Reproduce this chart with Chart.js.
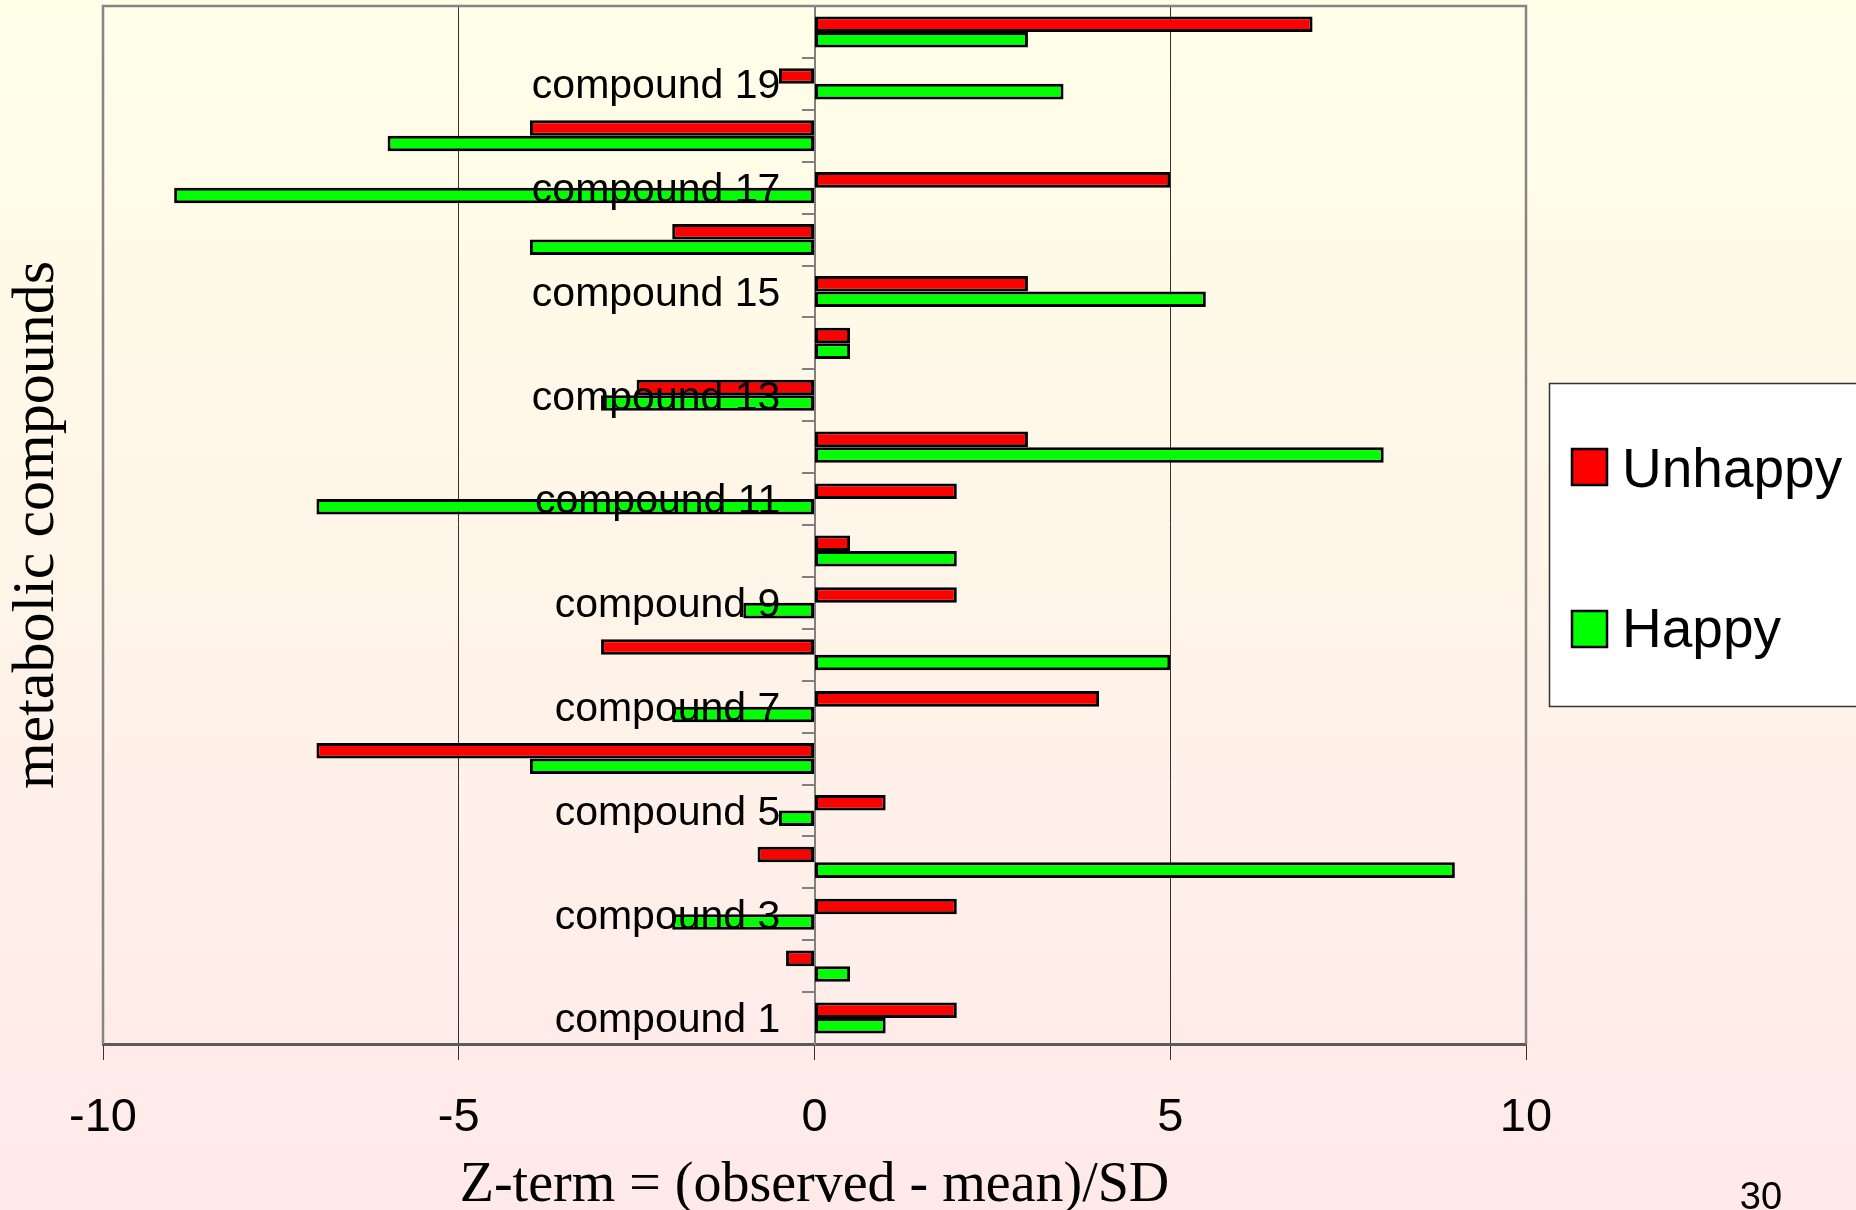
<!DOCTYPE html>
<html>
<head>
<meta charset="utf-8">
<script src="https://cdn.jsdelivr.net/npm/chart.js@4"></script>
<style>
  html, body { margin: 0; padding: 0; background: linear-gradient(#FFFFE8, #FFE9E9); }
  #wrap { width: 1856px; height: 1210px; position: relative; }
</style>
</head>
<body>
<div id="wrap"><canvas id="c"></canvas></div>
<script>
// ---- data ----
const categories = ['compound 1','compound 2','compound 3','compound 4','compound 5','compound 6','compound 7','compound 8','compound 9','compound 10',
                    'compound 11','compound 12','compound 13','compound 14','compound 15','compound 16','compound 17','compound 18','compound 19','compound 20'];
const unhappy = [2, -0.4, 2, -0.8, 1, -7, 4, -3, 2, 0.5, 2, 3, -2.5, 0.5, 3, -2, 5, -4, -0.5, 7];
const happy   = [1, 0.5, -2, 9, -0.5, -4, -2, 5, -1, 2, -7, 8, -3, 0.5, 5.5, -4, -9, -6, 3.5, 3];
const seriesNames = ['Unhappy', 'Happy'];
const xTicks = [-10, -5, 0, 5, 10];
const xTitle = 'Z-term = (observed - mean)/SD';
const yTitle = 'metabolic compounds';
const slideNumber = '30';

const SANS = '"Liberation Sans", Arial, sans-serif';
const SERIF = '"Liberation Serif", "Times New Roman", serif';

const bgPlugin = {
  id: 'bg',
  beforeDraw(chart) {
    const {ctx, width, height} = chart;
    const g = ctx.createLinearGradient(0, 0, 0, height);
    g.addColorStop(0, '#FFFFE8');
    g.addColorStop(1, '#FFE9E9');
    ctx.save();
    ctx.fillStyle = g;
    ctx.fillRect(0, 0, width, height);
    ctx.restore();
  },
  beforeDatasetsDraw(chart) {
    const {ctx, chartArea: a} = chart;
    ctx.save();
    ctx.strokeStyle = '#858585';
    ctx.lineWidth = 2.5;
    ctx.beginPath();
    ctx.moveTo(a.left, a.bottom);
    ctx.lineTo(a.left, a.top);
    ctx.lineTo(a.right, a.top);
    ctx.lineTo(a.right, a.bottom);
    ctx.stroke();
    ctx.restore();
  },
  afterDraw(chart) {
    const {ctx} = chart;
    ctx.save();
    // y title
    ctx.translate(53, 525);
    ctx.rotate(-Math.PI / 2);
    ctx.fillStyle = '#000';
    ctx.font = '60px ' + SERIF;
    ctx.textAlign = 'center';
    ctx.textBaseline = 'alphabetic';
    ctx.fillText(yTitle, 0, 0);
    ctx.restore();

    // slide number
    ctx.save();
    ctx.fillStyle = '#000';
    ctx.font = '38px ' + SANS;
    ctx.textAlign = 'center';
    ctx.textBaseline = 'alphabetic';
    ctx.fillText(slideNumber, 1761, 1209);
    ctx.restore();

    // legend
    ctx.save();
    ctx.fillStyle = '#FFFFFF';
    ctx.fillRect(1549, 383, 400, 324);
    ctx.strokeStyle = '#333';
    ctx.lineWidth = 1.5;
    ctx.strokeRect(1549.5, 383.5, 400, 323);
    const ds = chart.data.datasets;
    const rows = [{sq: 449, base: 487}, {sq: 611, base: 647}];
    ds.forEach((d, i) => {
      const r = rows[i];
      ctx.fillStyle = d.backgroundColor;
      ctx.fillRect(1572, r.sq, 35, 36);
      ctx.strokeStyle = '#000';
      ctx.lineWidth = 2.5;
      ctx.strokeRect(1572, r.sq, 35, 36);
      ctx.fillStyle = '#000';
      ctx.font = '55px ' + SANS;
      ctx.textAlign = 'left';
      ctx.textBaseline = 'alphabetic';
      ctx.fillText(d.label, 1622, r.base);
    });
    ctx.restore();
  }
};

new Chart(document.getElementById('c'), {
  type: 'bar',
  data: {
    labels: categories,
    datasets: [
      { label: seriesNames[0], data: unhappy, backgroundColor: '#FF0000', borderColor: '#000', borderWidth: 3, borderSkipped: false },
      { label: seriesNames[1], data: happy,   backgroundColor: '#00FF00', borderColor: '#000', borderWidth: 3, borderSkipped: false }
    ]
  },
  options: {
    indexAxis: 'y',
    responsive: true,
    maintainAspectRatio: false,
    animation: false,
    devicePixelRatio: 1,
    categoryPercentage: 0.6,
    barPercentage: 1.0,
    layout: { padding: { left: 103, right: 330, top: 6, bottom: 0 } },
    plugins: { legend: { display: false }, tooltip: { enabled: false } },
    scales: {
      x: {
        type: 'linear',
        min: -10, max: 10,
        afterBuildTicks(scale) { scale.ticks = xTicks.map(v => ({value: v})); },
        afterFit(scale) { scale.height = 166; },
        ticks: { color: '#000', font: { family: SANS, size: 47 }, padding: 30 },
        grid: {
          color: (c) => (c.tick && (c.tick.value === -5 || c.tick.value === 5)) ? '#333' : 'rgba(0,0,0,0)',
          tickColor: '#333',
          lineWidth: 1,
          tickLength: 16
        },
        border: { display: true, color: '#5a5a5a', width: 3 },
        title: { display: true, text: xTitle, color: '#000', font: { family: SERIF, size: 56, lineHeight: 0.7 }, padding: { top: 0, bottom: 4 } }
      },
      y: {
        type: 'category',
        reverse: true,
        offset: true,
        position: { x: 0 },
        afterFit(scale) { scale.paddingTop = 0; scale.paddingBottom = 0; },
        ticks: {
          z: 1,
          autoSkip: false,
          color: '#000',
          font: { family: SANS, size: 41 },
          padding: 20,
          labelOffset: 3,
          // axis sits at x = 0, where Chart.js puts labels flush on the axis line: keep a gap
          callback(value, index) { return index % 2 === 0 ? this.getLabelForValue(value) + '\u00A0\u00A0\u00A0' : ''; }
        },
        grid: { drawOnChartArea: false, offset: true, tickLength: 12, color: '#808080', lineWidth: 2 },
        border: { display: true, color: '#808080', width: 2 }
      }
    }
  },
  plugins: [bgPlugin]
});
</script>
</body>
</html>
